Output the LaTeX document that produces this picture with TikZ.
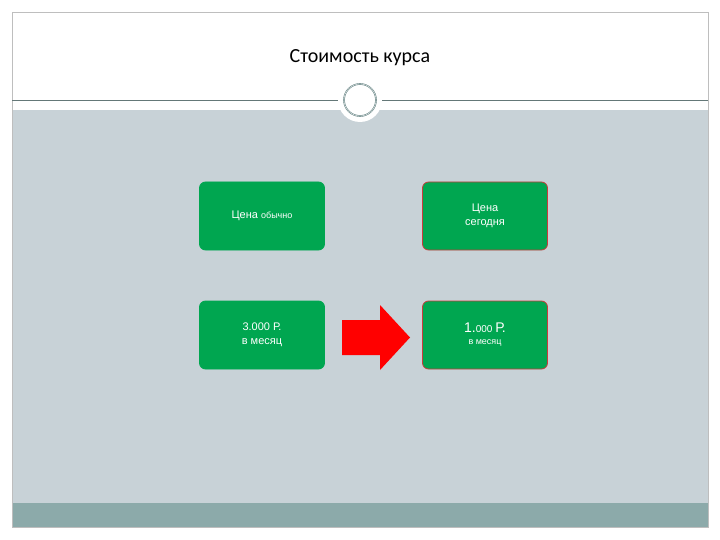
\documentclass[tikz,border=0pt]{standalone}
\usepackage{fontspec}
\setmainfont{Liberation Sans}
\newfontfamily\titlefont{Carlito}
\definecolor{bggrey}{RGB}{200,210,215}
\definecolor{band}{RGB}{140,170,170}
\definecolor{frame}{RGB}{190,190,190}
\definecolor{rule}{RGB}{100,120,120}
\definecolor{ring}{RGB}{100,130,130}
\definecolor{boxgreen}{RGB}{0,166,80}
\definecolor{boxred}{RGB}{200,60,60}
\begin{document}
\begin{tikzpicture}[x=1pt,y=-1pt,
  box/.style={draw=#1,line width=0.8pt,fill=boxgreen,rounded corners=6pt,minimum width=125pt,minimum height=68pt,text=white,align=center,font=\fontsize{11}{14}\selectfont}]
\useasboundingbox (0,0) rectangle (720,540);
\fill[white] (0,0) rectangle (720,540);
\fill[bggrey] (12,110) rectangle (708,503);
\fill[band] (12,503) rectangle (708,527);
\draw[frame,line width=0.6pt] (12,12) rectangle (708,527);
\node[font=\titlefont\fontsize{20}{24}\selectfont] (title) at (360,58) {Стоимость курса};
\coordinate (l1) at (12,100); \coordinate (l2) at (708,100);
\draw[rule,line width=0.6pt] (l1) -- (l2);
\fill[white] (360,100) circle (22);
\draw[ring,line width=1.6pt] (360,100) circle (16);
\draw[white,line width=0.4pt] (360,100) circle (16);
\node[box=boxgreen] (a) at (262,216) {Цена {\fontsize{9}{11}\selectfont обычно}};
\node[box=boxred] (b) at (485,216) {Цена\\сегодня};
\node[box=boxgreen] (c) at (262,335) {3.000 Р.\\в месяц};
\node[box=boxred] (d) at (485,335) {{\fontsize{14}{16}\selectfont 1.}{\fontsize{10}{12}\selectfont 000 }{\fontsize{14}{16}\selectfont Р.}\\[-2pt]{\fontsize{9}{12}\selectfont в месяц}};
\fill[red] (342,320) -- (380,320) -- (380,305) -- (410,337.5) -- (380,370) -- (380,355) -- (342,355) -- cycle;
\end{tikzpicture}
\end{document}
